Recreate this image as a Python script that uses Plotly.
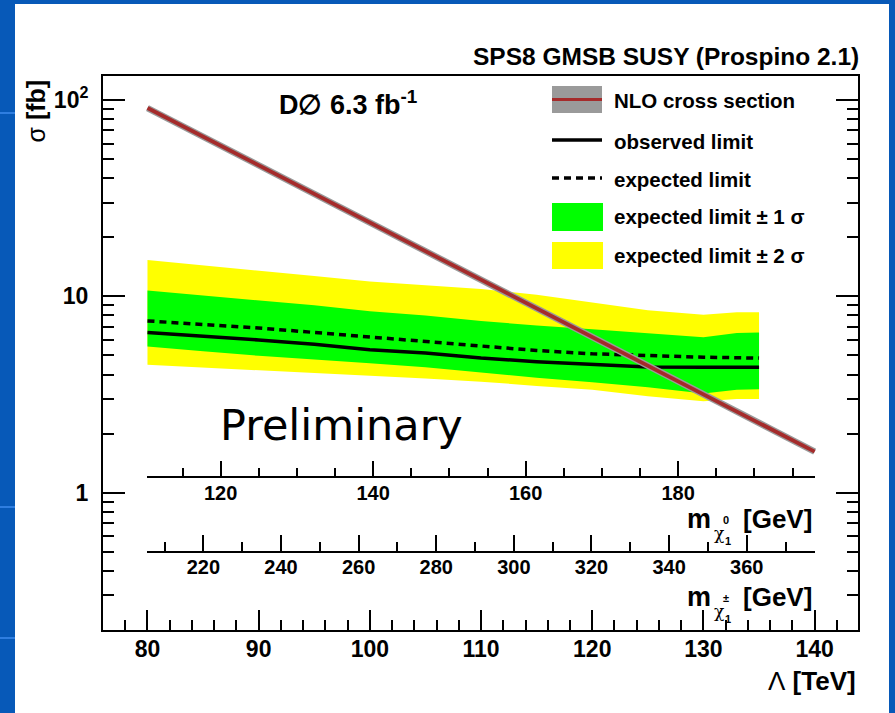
import math
import plotly.graph_objects as go

# ---------------- data ----------------
# Lambda grid (TeV) for the expected / observed limits
lam = [80, 85, 90, 95, 100, 105, 110, 115, 120, 125, 130, 133, 135]
exp_p2 = [15.3, 14.4, 13.6, 12.7, 11.9, 11.4, 10.9, 10.2, 9.3, 8.5, 8.05, 8.3, 8.3]
exp_p1 = [10.7, 10.1, 9.6, 9.0, 8.4, 8.0, 7.5, 7.1, 6.8, 6.5, 6.2, 6.5, 6.55]
expected = [7.5, 7.2, 6.9, 6.55, 6.2, 5.9, 5.6, 5.3, 5.1, 4.98, 4.9, 4.87, 4.85]
observed = [6.55, 6.3, 6.0, 5.7, 5.35, 5.15, 4.85, 4.65, 4.5, 4.37, 4.36, 4.36, 4.36]
exp_m1 = [5.55, 5.25, 4.98, 4.75, 4.57, 4.35, 4.1, 3.85, 3.65, 3.45, 3.2, 3.35, 3.37]
exp_m2 = [4.48, 4.33, 4.19, 4.05, 3.94, 3.82, 3.68, 3.5, 3.35, 3.1, 2.92, 3.0, 3.0]

# NLO cross section (fb)
lam_nlo = [80, 90, 100, 110, 120, 130, 140]
sigma_nlo = [91, 46.5, 23.8, 12.2, 6.2, 3.18, 1.62]

# axis ranges
LAM_RANGE = [76, 143.9]
SIG_RANGE = [0.2, 132.5]
CHI0_RANGE = [110.4, 197.9]    # m(chi1^0) over Lambda = 80..140 TeV
CHIPM_RANGE = [205.6, 377.5]   # m(chi1^+-) over Lambda = 80..140 TeV
CHI_LAM_SPAN = [80, 140]
CHI0_AT_SIGMA = 1.2
CHIPM_AT_SIGMA = 0.5

y_major = [1, 10, 100]
y_major_text = ["1", "10", "10<sup>2</sup>"]
y_minor = [v * d for d in (0.1, 1, 10) for v in range(2, 10)
           if SIG_RANGE[0] <= v * d <= SIG_RANGE[1]]

# ---------------- geometry ----------------
W, H = 895, 713
ML, MR, MT, MB = 103, 37, 76, 83
PW, PH = W - ML - MR, H - MT - MB


def px(xpix):
    return (xpix - ML) / PW


def py(ypix):
    return (H - MB - ypix) / PH


ylog = [math.log10(SIG_RANGE[0]), math.log10(SIG_RANGE[1])]


def frac_y(sig):
    return (math.log10(sig) - ylog[0]) / (ylog[1] - ylog[0])


def frac_x(lv):
    return (lv - LAM_RANGE[0]) / (LAM_RANGE[1] - LAM_RANGE[0])


chi_domain = [frac_x(CHI_LAM_SPAN[0]), frac_x(CHI_LAM_SPAN[1])]

FONT = "Liberation Sans, Arial, sans-serif"
BLACK = "#000000"
NLO_RED = "#a52b2b"
NLO_GREY = "#9a9a9a"

fig = go.Figure()

# +-2 sigma band
fig.add_trace(go.Scatter(
    x=lam + lam[::-1], y=exp_p2 + exp_m2[::-1], fill="toself",
    fillcolor="#ffff00", line=dict(width=0), mode="lines",
    hoverinfo="skip", showlegend=False))
# +-1 sigma band
fig.add_trace(go.Scatter(
    x=lam + lam[::-1], y=exp_p1 + exp_m1[::-1], fill="toself",
    fillcolor="#00ff00", line=dict(width=0), mode="lines",
    hoverinfo="skip", showlegend=False))
# expected limit
fig.add_trace(go.Scatter(
    x=lam, y=expected, mode="lines",
    line=dict(color=BLACK, width=3.5, dash="7px,5px"), showlegend=False))
# observed limit
fig.add_trace(go.Scatter(
    x=lam, y=observed, mode="lines",
    line=dict(color=BLACK, width=3.5), showlegend=False))
# NLO cross section with its uncertainty
fig.add_trace(go.Scatter(
    x=lam_nlo, y=sigma_nlo, mode="lines",
    line=dict(color=NLO_GREY, width=6.5), showlegend=False))
fig.add_trace(go.Scatter(
    x=lam_nlo, y=sigma_nlo, mode="lines",
    line=dict(color=NLO_RED, width=3.8), showlegend=False))

# invisible anchors so the auxiliary axes are built
fig.add_trace(go.Scatter(x=[LAM_RANGE[0]], y=[1], xaxis="x", yaxis="y2",
                         mode="markers", marker=dict(opacity=0),
                         hoverinfo="skip", showlegend=False))
fig.add_trace(go.Scatter(x=[CHI0_RANGE[0]], y=[1], xaxis="x3", yaxis="y",
                         mode="markers", marker=dict(opacity=0),
                         hoverinfo="skip", showlegend=False))
fig.add_trace(go.Scatter(x=[CHIPM_RANGE[0]], y=[1], xaxis="x4", yaxis="y",
                         mode="markers", marker=dict(opacity=0),
                         hoverinfo="skip", showlegend=False))

tickfont_main = dict(family=FONT, size=23, color=BLACK, weight="bold")
tickfont_chi = dict(family=FONT, size=20, color=BLACK, weight="bold")

fig.update_layout(
    width=W, height=H,
    margin=dict(l=ML, r=MR, t=MT, b=MB, pad=0),
    paper_bgcolor="#0759b8",
    plot_bgcolor="rgba(0,0,0,0)",
    showlegend=False,
    xaxis=dict(
        range=LAM_RANGE, showgrid=False, zeroline=False,
        showline=True, linecolor=BLACK, linewidth=2, mirror=True,
        ticks="inside", ticklen=20, tickwidth=2, tickcolor=BLACK,
        tick0=0, dtick=10, tickfont=tickfont_main, ticklabelstandoff=-3,
        minor=dict(ticks="inside", ticklen=10, tickwidth=2,
                   tickcolor=BLACK, dtick=2, tick0=0, showgrid=False),
    ),
    yaxis=dict(
        type="log", range=ylog, showgrid=False, zeroline=False,
        showline=True, linecolor=BLACK, linewidth=2, mirror=True,
        ticks="inside", ticklen=22, tickwidth=2, tickcolor=BLACK,
        tickmode="array", tickvals=y_major, ticktext=y_major_text,
        tickfont=tickfont_main, ticklabelstandoff=8,
        minor=dict(ticks="inside", ticklen=11, tickwidth=2,
                   tickcolor=BLACK, tickmode="array", tickvals=y_minor,
                   showgrid=False),
    ),
    yaxis2=dict(
        type="log", range=ylog, overlaying="y", side="right",
        showgrid=False, zeroline=False, showline=False,
        ticks="inside", ticklen=22, tickwidth=2, tickcolor=BLACK,
        tickmode="array", tickvals=y_major, showticklabels=False,
        minor=dict(ticks="inside", ticklen=11, tickwidth=2,
                   tickcolor=BLACK, tickmode="array", tickvals=y_minor,
                   showgrid=False),
    ),
    xaxis3=dict(
        domain=chi_domain, anchor="free", position=frac_y(CHI0_AT_SIGMA),
        range=CHI0_RANGE, showgrid=False, zeroline=False,
        showline=True, linecolor=BLACK, linewidth=2,
        ticks="inside", ticklen=15, tickwidth=2, tickcolor=BLACK,
        tick0=0, dtick=20, tickfont=tickfont_chi, ticklabelstandoff=-2,
        minor=dict(ticks="inside", ticklen=8, tickwidth=2,
                   tickcolor=BLACK, dtick=5, tick0=0, showgrid=False),
    ),
    xaxis4=dict(
        domain=chi_domain, anchor="free", position=frac_y(CHIPM_AT_SIGMA),
        range=CHIPM_RANGE, showgrid=False, zeroline=False,
        showline=True, linecolor=BLACK, linewidth=2,
        ticks="inside", ticklen=16, tickwidth=2, tickcolor=BLACK,
        tick0=0, dtick=20, tickfont=tickfont_chi, ticklabelstandoff=-3,
        minor=dict(ticks="inside", ticklen=9, tickwidth=2,
                   tickcolor=BLACK, dtick=10, tick0=0, showgrid=False),
    ),
)

shapes = []
# white slide panel
shapes.append(dict(type="rect", xref="paper", yref="paper", layer="below",
                   x0=px(15), x1=px(889), y0=py(4), y1=py(H + 2),
                   fillcolor="white", line=dict(width=0)))
# faint highlight strokes on the slide border
for yy in (113, 507, 638):
    shapes.append(dict(type="line", xref="paper", yref="paper", layer="below",
                       x0=px(0), x1=px(15), y0=py(yy), y1=py(yy),
                       line=dict(color="#2f7ee0", width=2)))

# legend swatches
LX0, LX1 = 552, 602
shapes.append(dict(type="rect", xref="paper", yref="paper",
                   x0=px(LX0), x1=px(LX1), y0=py(113), y1=py(86),
                   fillcolor=NLO_GREY, line=dict(width=0)))
shapes.append(dict(type="line", xref="paper", yref="paper",
                   x0=px(LX0), x1=px(LX1), y0=py(99.5), y1=py(99.5),
                   line=dict(color=NLO_RED, width=3)))
shapes.append(dict(type="line", xref="paper", yref="paper",
                   x0=px(LX0), x1=px(LX1), y0=py(140), y1=py(140),
                   line=dict(color=BLACK, width=3.5)))
shapes.append(dict(type="line", xref="paper", yref="paper",
                   x0=px(LX0), x1=px(LX1), y0=py(178), y1=py(178),
                   line=dict(color=BLACK, width=3.5, dash="7px,5px")))
shapes.append(dict(type="rect", xref="paper", yref="paper",
                   x0=px(LX0), x1=px(LX1 + 1), y0=py(231), y1=py(203),
                   fillcolor="#00ff00", line=dict(width=0)))
shapes.append(dict(type="rect", xref="paper", yref="paper",
                   x0=px(LX0), x1=px(LX1 + 1), y0=py(269), y1=py(242),
                   fillcolor="#ffff00", line=dict(width=0)))
fig.update_layout(shapes=shapes)

ann = []


def text(s, x, y, size, xanchor="left", yanchor="middle", bold=True,
         family=FONT, angle=0):
    ann.append(dict(text=s, xref="paper", yref="paper", x=px(x), y=py(y),
                    xanchor=xanchor, yanchor=yanchor, showarrow=False,
                    textangle=angle,
                    font=dict(family=family, size=size, color=BLACK,
                              weight="bold" if bold else "normal")))


LEG = 20.5
text("NLO cross section", 612, 101, LEG)
text("observed limit", 612, 141, LEG)
text("expected limit", 612, 179, LEG)
text("expected limit ± 1 σ", 612, 217, LEG)
text("expected limit ± 2 σ", 612, 256, LEG)

text("SPS8 GMSB SUSY (Prospino 2.1)", 861, 57, 24.5, xanchor="right")
text("D∅ 6.3 fb<sup>-1</sup>", 277, 103, 27)
text("Preliminary", 341, 425, 43, xanchor="center", bold=False,
     family="DejaVu Sans, sans-serif")

# axis titles
text("<span style='font-weight:normal'>σ</span> [fb]", 35, 78, 25,
     xanchor="center", yanchor="top", angle=-90)
text("<span style='font-weight:normal'>Λ</span> [TeV]", 858, 681, 26,
     xanchor="right")

# neutralino / chargino mass axis titles
for base_y, sup in ((519, "0"), (597, "±")):
    text("[GeV]", 814, base_y, 26, xanchor="right")
    text("m", 713, base_y, 27, xanchor="right")
    text("χ", 719, base_y + 14, 17, xanchor="center", bold=False,
         family="DejaVu Serif, serif")
    text(sup, 726, base_y + 1, 11, xanchor="center")
    text("1", 728, base_y + 22, 11, xanchor="center")

fig.update_layout(annotations=ann)

fig.write_html("out.html")
